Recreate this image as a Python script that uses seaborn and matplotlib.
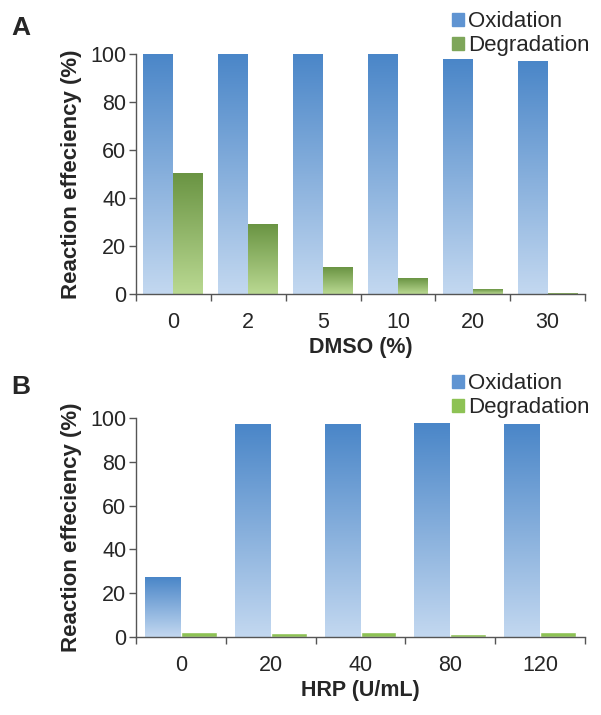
import numpy as np
import pandas as pd
import matplotlib.pyplot as plt
import seaborn as sns
from matplotlib.colors import LinearSegmentedColormap
from matplotlib.patches import Patch

# panel A
dmso = ['0', '2', '5', '10', '20', '30']
dmso_ox = [100, 99.8, 100, 99.7, 97.5, 97.0]
dmso_deg = [50, 29, 11, 6.3, 2.0, 0.3]

# panel B
hrp = ['0', '20', '40', '80', '120']
hrp_ox = [27.3, 97.1, 97.4, 97.9, 97.4]
hrp_deg = [2.3, 1.5, 2.0, 1.3, 2.0]

series = ['Oxidation', 'Degradation']

sns.set_style("ticks")
plt.rcParams['font.family'] = ['Liberation Sans', 'DejaVu Sans']

blue_cm = LinearSegmentedColormap.from_list('b', ['#c3d8f0', '#4a86c8'])
green_cm = LinearSegmentedColormap.from_list('g', ['#bad992', '#6a9443'])
green_flat = '#8dc254'
spine_col = '#555555'

grad = np.linspace(0, 1, 256).reshape(-1, 1)


def panel(ax, cats, ox, deg, xlabel, green_gradient):
    n = len(cats)
    df = pd.DataFrame({'cond': cats * 2,
                       'val': ox + deg,
                       'series': [series[0]] * n + [series[1]] * n})
    sns.barplot(data=df, x='cond', y='val', hue='series', order=cats,
                hue_order=series, palette=['#6a9ad4', green_flat],
                saturation=1, width=0.8, legend=False, ax=ax)
    cmaps = [blue_cm, green_cm if green_gradient else None]
    for cont, cm in zip(ax.containers, cmaps):
        if cm is None:
            continue
        for patch in cont:
            x0, y0, x1, y1 = patch.get_bbox().extents
            if y1 - y0 <= 0:
                continue
            ax.imshow(grad, cmap=cm, extent=[x0, x1, y0, y1], origin='lower',
                      aspect='auto', zorder=patch.get_zorder() + 0.1)
    ax.set_xlim(-0.5, n - 0.5)
    ax.set_ylim(0, 100)
    ax.set_yticks(range(0, 101, 20))
    ax.set_xticks(np.arange(-0.5, n), minor=True)
    ax.tick_params(axis='x', which='major', length=0, pad=13, labelsize=15.5)
    ax.tick_params(axis='x', which='minor', length=5, color=spine_col, width=1)
    ax.tick_params(axis='y', length=5, color=spine_col, width=1, labelsize=15.5, pad=2)
    for s in ['top', 'right']:
        ax.spines[s].set_visible(False)
    for s in ['left', 'bottom']:
        ax.spines[s].set_color(spine_col)
        ax.spines[s].set_linewidth(1)
    ax.set_xlabel(xlabel, fontsize=15.5, fontweight='bold', labelpad=3)
    ax.set_ylabel('Reaction effeciency (%)', fontsize=16, fontweight='bold', labelpad=6)


fig = plt.figure(figsize=(6.01, 7.15), dpi=100)
axA = fig.add_axes([0.2263, 0.5888, 0.7471, 0.3357])
axB = fig.add_axes([0.2263, 0.1095, 0.7471, 0.3055])

panel(axA, dmso, dmso_ox, dmso_deg, 'DMSO (%)', True)
panel(axB, hrp, hrp_ox, hrp_deg, 'HRP (U/mL)', False)

leg_kw = dict(loc='upper right', frameon=False, fontsize=16, handlelength=0.55,
              handleheight=0.5, handletextpad=0.2, labelspacing=0.15, borderpad=0)
fig.legend([Patch(color='#5f94d2'), Patch(color='#7ea65a')], series,
           bbox_to_anchor=(1.0, 1.0), **leg_kw)
fig.legend([Patch(color='#5f94d2'), Patch(color=green_flat)], series,
           bbox_to_anchor=(1.0, 1 - 362 / 715), **leg_kw)

fig.text(11 / 601, 1 - 28 / 715, 'A', fontsize=19, fontweight='bold', va='center')
fig.text(11 / 601, 1 - 387 / 715, 'B', fontsize=19, fontweight='bold', va='center')

plt.savefig('out.png', dpi=100)
